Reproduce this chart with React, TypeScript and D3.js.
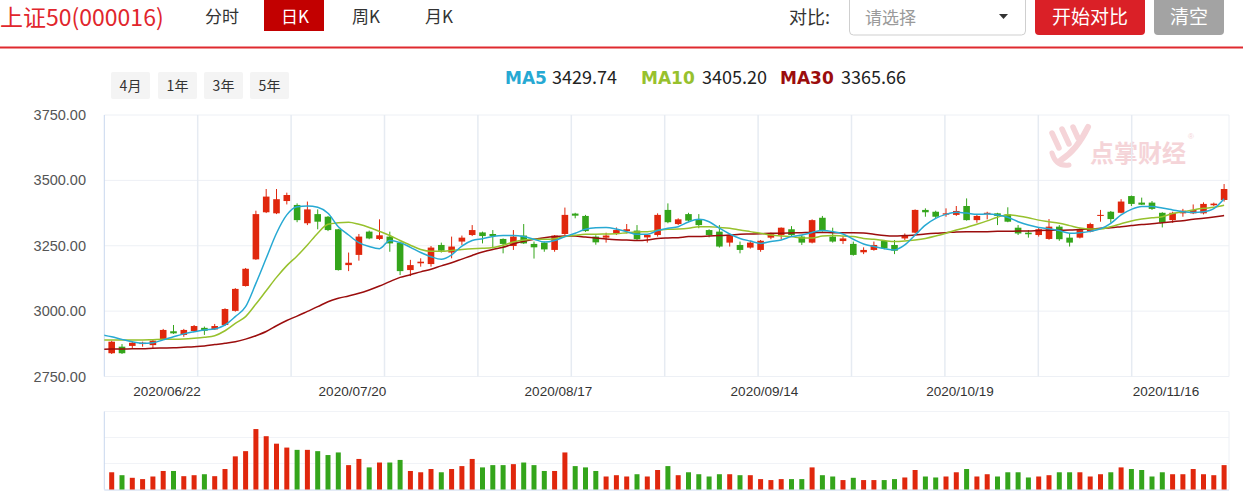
import React from "react";
import * as d3 from "d3";

// ---------- data ----------
const dates = "2020/06/12 2020/06/15 2020/06/16 2020/06/17 2020/06/18 2020/06/19 2020/06/22 2020/06/23 2020/06/24 2020/06/29 2020/06/30 2020/07/01 2020/07/02 2020/07/03 2020/07/06 2020/07/07 2020/07/08 2020/07/09 2020/07/10 2020/07/13 2020/07/14 2020/07/15 2020/07/16 2020/07/17 2020/07/20 2020/07/21 2020/07/22 2020/07/23 2020/07/24 2020/07/27 2020/07/28 2020/07/29 2020/07/30 2020/07/31 2020/08/03 2020/08/04 2020/08/05 2020/08/06 2020/08/07 2020/08/10 2020/08/11 2020/08/12 2020/08/13 2020/08/14 2020/08/17 2020/08/18 2020/08/19 2020/08/20 2020/08/21 2020/08/24 2020/08/25 2020/08/26 2020/08/27 2020/08/28 2020/08/31 2020/09/01 2020/09/02 2020/09/03 2020/09/04 2020/09/07 2020/09/08 2020/09/09 2020/09/10 2020/09/11 2020/09/14 2020/09/15 2020/09/16 2020/09/17 2020/09/18 2020/09/21 2020/09/22 2020/09/23 2020/09/24 2020/09/25 2020/09/28 2020/09/29 2020/09/30 2020/10/09 2020/10/12 2020/10/13 2020/10/14 2020/10/15 2020/10/16 2020/10/19 2020/10/20 2020/10/21 2020/10/22 2020/10/23 2020/10/26 2020/10/27 2020/10/28 2020/10/29 2020/10/30 2020/11/02 2020/11/03 2020/11/04 2020/11/05 2020/11/06 2020/11/09 2020/11/10 2020/11/11 2020/11/12 2020/11/13 2020/11/16 2020/11/17 2020/11/18 2020/11/19 2020/11/20 2020/11/23".split(" ");

const open = [2839, 2864, 2867, 2874, 2870, 2892, 2923, 2909, 2924, 2936,
  2930, 2947, 3001, 3096, 3198, 3378, 3374, 3421, 3406, 3336,
  3371, 3361, 3313, 3176, 3215, 3304, 3276, 3285, 3262, 3157,
  3183, 3180, 3253, 3224, 3266, 3291, 3301, 3295, 3276, 3249,
  3289, 3257, 3262, 3234, 3295, 3373, 3364, 3285, 3281, 3297,
  3306, 3308, 3282, 3291, 3387, 3333, 3371, 3349, 3310, 3304,
  3262, 3253, 3243, 3234, 3281, 3291, 3313, 3285, 3262, 3357,
  3285, 3268, 3257, 3225, 3234, 3268, 3253, 3278, 3300, 3387,
  3380, 3369, 3368, 3402, 3348, 3371, 3374, 3370, 3319, 3300,
  3291, 3276, 3323, 3281, 3281, 3304, 3364, 3380, 3376, 3440,
  3415, 3415, 3376, 3348, 3374, 3374, 3374, 3405, 3425];
const high = [2887, 2874, 2883, 2883, 2893, 2932, 2947, 2932, 2947, 2941,
  2951, 3011, 3088, 3165, 3384, 3467, 3467, 3453, 3412, 3419,
  3389, 3364, 3315, 3224, 3295, 3308, 3351, 3304, 3266, 3196,
  3202, 3249, 3262, 3285, 3289, 3329, 3304, 3310, 3278, 3310,
  3333, 3266, 3266, 3291, 3396, 3376, 3368, 3290, 3300, 3320,
  3333, 3329, 3293, 3374, 3412, 3355, 3376, 3371, 3313, 3329,
  3295, 3266, 3269, 3272, 3300, 3320, 3325, 3291, 3351, 3364,
  3319, 3287, 3266, 3244, 3266, 3272, 3272, 3297, 3389, 3393,
  3384, 3393, 3402, 3431, 3368, 3380, 3376, 3397, 3329, 3310,
  3320, 3352, 3329, 3297, 3317, 3338, 3387, 3383, 3428, 3442,
  3434, 3421, 3378, 3380, 3391, 3408, 3416, 3415, 3486];
const low = [2836, 2836, 2858, 2864, 2858, 2890, 2913, 2902, 2921, 2909,
  2928, 2943, 2998, 3094, 3196, 3375, 3371, 3408, 3340, 3329,
  3313, 3306, 3155, 3153, 3193, 3275, 3272, 3227, 3138, 3134,
  3170, 3170, 3224, 3202, 3253, 3287, 3259, 3240, 3221, 3234,
  3257, 3201, 3227, 3227, 3291, 3355, 3303, 3254, 3262, 3291,
  3297, 3269, 3262, 3285, 3336, 3329, 3342, 3317, 3282, 3243,
  3247, 3221, 3239, 3227, 3275, 3275, 3287, 3253, 3259, 3304,
  3262, 3257, 3212, 3218, 3231, 3236, 3218, 3272, 3297, 3361,
  3355, 3361, 3364, 3346, 3338, 3351, 3329, 3340, 3291, 3281,
  3285, 3273, 3269, 3247, 3278, 3301, 3342, 3338, 3374, 3402,
  3406, 3387, 3320, 3338, 3361, 3371, 3370, 3402, 3419];
const close = [2883, 2839, 2879, 2879, 2887, 2928, 2915, 2928, 2943, 2925,
  2943, 3008, 3085, 3162, 3371, 3438, 3428, 3444, 3348, 3389,
  3342, 3310, 3157, 3185, 3285, 3278, 3290, 3259, 3153, 3176,
  3189, 3243, 3231, 3247, 3281, 3310, 3287, 3287, 3257, 3285,
  3259, 3244, 3236, 3289, 3368, 3365, 3306, 3263, 3289, 3310,
  3313, 3275, 3291, 3368, 3340, 3351, 3346, 3329, 3291, 3247,
  3291, 3234, 3262, 3269, 3294, 3319, 3291, 3262, 3348, 3306,
  3266, 3278, 3215, 3234, 3253, 3240, 3231, 3291, 3387, 3378,
  3361, 3374, 3383, 3348, 3364, 3376, 3364, 3342, 3297, 3294,
  3313, 3323, 3275, 3262, 3310, 3333, 3368, 3352, 3419, 3410,
  3407, 3391, 3338, 3376, 3384, 3387, 3410, 3411, 3467];
const volume = [5.3, 4.4, 3.6, 3.2, 4.0, 5.7, 5.7, 4.1, 4.4, 4.7,
  4.1, 6.3, 10.2, 11.8, 18.6, 16.4, 14.1, 12.9, 12.2, 12.2,
  11.8, 10.6, 11.4, 7.5, 9.4, 6.8, 8.3, 8.3, 9.1, 5.7,
  5.3, 6.3, 5.3, 6.3, 7.2, 9.4, 6.8, 7.5, 7.5, 7.8,
  8.3, 7.5, 5.7, 5.7, 11.4, 7.2, 6.8, 5.7, 4.0, 4.4,
  4.0, 4.7, 4.0, 6.0, 7.2, 4.4, 5.3, 4.7, 4.0, 4.7,
  4.7, 4.4, 4.4, 3.2, 2.9, 3.2, 3.2, 3.2, 6.8, 4.4,
  4.0, 2.9, 3.6, 2.9, 2.9, 2.9, 3.2, 3.7, 6.0, 4.0,
  3.7, 4.0, 5.3, 6.3, 4.0, 4.7, 4.0, 5.3, 5.3, 3.7,
  4.0, 4.4, 5.3, 5.3, 5.3, 4.0, 4.7, 5.3, 6.8, 6.3,
  6.0, 4.0, 5.3, 4.7, 4.7, 6.3, 4.7, 4.4, 7.5];

// moving averages: first value belongs to the session before the first visible candle (2020/06/11)
const ma5 = [2910,
  2902, 2892, 2883, 2877, 2879, 2890, 2902, 2913, 2921, 2928,
  2932, 2947, 2979, 3017, 3106, 3202, 3298, 3368, 3399, 3402,
  3397, 3374, 3323, 3291, 3262, 3247, 3239, 3270, 3262, 3244,
  3224, 3208, 3198, 3215, 3249, 3270, 3277, 3285, 3289, 3289,
  3285, 3275, 3264, 3270, 3285, 3298, 3313, 3319, 3320, 3314,
  3304, 3294, 3294, 3308, 3317, 3323, 3341, 3351, 3342, 3317,
  3295, 3278, 3268, 3259, 3266, 3272, 3285, 3291, 3301, 3308,
  3304, 3295, 3275, 3257, 3247, 3239, 3234, 3253, 3291, 3329,
  3355, 3370, 3378, 3375, 3370, 3371, 3368, 3359, 3342, 3329,
  3320, 3315, 3308, 3298, 3300, 3305, 3315, 3336, 3368, 3389,
  3400, 3400, 3394, 3387, 3380, 3377, 3380, 3392, 3429.74];
const ma10 = [2890,
  2890, 2890, 2890, 2890, 2891, 2892, 2892, 2893, 2896, 2900,
  2906, 2925, 2953, 2979, 3027, 3078, 3129, 3174, 3211, 3253,
  3298, 3332, 3338, 3340, 3332, 3320, 3305, 3289, 3270, 3252,
  3236, 3229, 3229, 3232, 3236, 3239, 3240, 3243, 3252, 3264,
  3272, 3275, 3275, 3277, 3285, 3290, 3294, 3294, 3295, 3296,
  3300, 3303, 3304, 3309, 3313, 3314, 3317, 3323, 3323, 3320,
  3317, 3310, 3304, 3298, 3291, 3287, 3285, 3280, 3280, 3287,
  3289, 3287, 3285, 3278, 3275, 3270, 3266, 3268, 3272, 3278,
  3287, 3298, 3310, 3320, 3332, 3345, 3359, 3369, 3364, 3357,
  3348, 3342, 3336, 3327, 3318, 3314, 3314, 3323, 3334, 3345,
  3352, 3357, 3361, 3373, 3380, 3387, 3393, 3397, 3405.20];
const ma30 = [2854,
  2855, 2855, 2856, 2856, 2858, 2859, 2860, 2862, 2864, 2867,
  2872, 2877, 2883, 2893, 2906, 2922, 2944, 2964, 2981, 2999,
  3017, 3036, 3049, 3058, 3068, 3081, 3096, 3113, 3129, 3139,
  3150, 3160, 3173, 3185, 3199, 3213, 3226, 3236, 3244, 3257,
  3267, 3275, 3281, 3285, 3287, 3287, 3283, 3280, 3276, 3273,
  3272, 3270, 3272, 3278, 3280, 3281, 3285, 3285, 3287, 3289,
  3291, 3294, 3295, 3296, 3298, 3298, 3299, 3300, 3301, 3301,
  3300, 3300, 3300, 3299, 3294, 3289, 3287, 3289, 3291, 3295,
  3298, 3300, 3303, 3304, 3304, 3304, 3305, 3305, 3306, 3306,
  3308, 3309, 3309, 3310, 3312, 3314, 3317, 3319, 3323, 3327,
  3331, 3334, 3338, 3342, 3346, 3351, 3355, 3360, 3365.66];

const yTicks = [2750, 3000, 3250, 3500, 3750];
const xLabels = ["2020/06/22", "2020/07/20", "2020/08/17", "2020/09/14", "2020/10/19", "2020/11/16"];
const volTicks = [0, 8, 16, 24];
const tabs = ["分时", "日K", "周K", "月K"];
const ranges = ["4月", "1年", "3年", "5年"];

// ---------- style ----------
const RED = "#e0270d";
const GREEN = "#34a51b";
const C_MA5 = "#27a9d3";
const C_MA10 = "#97c12d";
const C_MA30 = "#9b0d0d";
const CJK = "'Noto Sans CJK SC', 'Noto Sans', sans-serif";
const NUM = "'Liberation Sans', Arial, sans-serif";
const BOLD = "'DejaVu Sans', 'Noto Sans', sans-serif";

const PL = 104.3, PR = 1229, PT = 115, PB = 376.5;
const VT = 411.5, VB = 489.5;

export default function App() {
  const x = d3.scaleLinear().domain([0, dates.length - 1]).range([111.7, 1224.1]);
  const y = d3.scaleLinear().domain([2750, 3750]).range([PB, PT]);
  const yv = d3.scaleLinear().domain([0, 24]).range([VB, VT]);
  const gridX = d3.scaleLinear().domain([0, 12]).range([PL, 1225.1]);

  const line = d3.line<number>()
    .x((_, i) => x(i - 1))
    .y((d) => y(d))
    .curve(d3.curveMonotoneX);

  const bodyW = 6.6;
  const volW = 5;

  const legend = [
    { name: "MA5", v: ma5[ma5.length - 1], c: C_MA5, x: 505, vx: 552 },
    { name: "MA10", v: ma10[ma10.length - 1], c: C_MA10, x: 641, vx: 702 },
    { name: "MA30", v: ma30[ma30.length - 1], c: C_MA30, x: 780, vx: 841 },
  ];

  const tabX = [205, 281, 352, 425];
  const rangeX = [111, 158, 204, 250];

  return (
    <svg width={1243} height={492} style={{ position: "absolute", left: 0, top: 0, background: "#fff" }}
      xmlns="http://www.w3.org/2000/svg">
      <defs>
        <clipPath id="plotClip">
          <rect x={PL} y={PT} width={PR - PL} height={PB - PT} />
        </clipPath>
      </defs>

      {/* header */}
      <text x={0} y={26} fontFamily={CJK} fontSize={23} fill="#e1262c">上证50(000016)</text>
      <rect x={264} y={0} width={60} height={31} fill="#c20000" />
      {tabs.map((t, i) => (
        <text key={t} x={tabX[i]} y={23} fontFamily={CJK} fontSize={17}
          fill={i === 1 ? "#fff" : "#333"}>{t}</text>
      ))}
      <text x={789} y={24} fontFamily={CJK} fontSize={18} fill="#333">对比:</text>
      <rect x={849.5} y={-5} width={176} height={40} rx={4} fill="#fff" stroke="#cfcfcf" />
      <text x={865} y={24} fontFamily={CJK} fontSize={17} fill="#9a9a9a">请选择</text>
      <path d="M999,14 L1008,14 L1003.5,19 Z" fill="#333" />
      <rect x={1035} y={-5} width={110} height={40} rx={4} fill="#da2027" />
      <text x={1090} y={24} textAnchor="middle" fontFamily={CJK} fontSize={19} fill="#fff">开始对比</text>
      <rect x={1154} y={-5} width={70} height={40} rx={4} fill="#a3a3a3" />
      <text x={1189} y={24} textAnchor="middle" fontFamily={CJK} fontSize={19} fill="#fff">清空</text>
      <rect x={0} y={46.5} width={1243} height={2} fill="#df2a2f" />

      {/* range buttons */}
      {ranges.map((r, i) => (
        <g key={r}>
          <rect x={rangeX[i]} y={72} width={39} height={27} rx={2} fill="#f4f4f4" />
          <text x={rangeX[i] + 19.5} y={90.5} textAnchor="middle" fontFamily={CJK} fontSize={14} fill="#333">{r}</text>
        </g>
      ))}

      {/* legend */}
      {legend.map((l) => (
        <g key={l.name}>
          <text x={l.x} y={84} fontFamily={BOLD} fontWeight={700} fontSize={17} fill={l.c}>{l.name}</text>
          <text x={l.vx} y={84} fontFamily={CJK} fontSize={18} fill="#222">{l.v.toFixed(2)}</text>
        </g>
      ))}

      {/* watermark */}
      <g stroke="#f5d4d8" strokeLinecap="round" fill="none">
        <path d="M1052,133 L1059,148" strokeWidth={5.5} />
        <path d="M1062,129 L1069,144" strokeWidth={5.5} />
        <path d="M1073,127 L1078,138" strokeWidth={5.5} />
        <path d="M1088,127 Q1077,150 1061,160" strokeWidth={6} />
        <path d="M1052,153 Q1056,167 1069,165" strokeWidth={5} />
      </g>
      <text x={1090} y={162} fontFamily={CJK} fontSize={24} fontWeight={700} fill="#f5d4d8">点掌财经</text>
      <text x={1188} y={139} fontFamily={NUM} fontSize={8} fill="#f5d4d8">®</text>

      {/* main grid */}
      {yTicks.map((t) => (
        <line key={t} x1={PL} x2={PR} y1={y(t)} y2={y(t)} stroke="#edf0f5" strokeWidth={1} />
      ))}
      {d3.range(1, 12).map((k) => (
        <line key={k} x1={gridX(k)} x2={gridX(k)} y1={PT} y2={PB} stroke="#e6ebf2" strokeWidth={1.5} />
      ))}
      <line x1={PR} x2={PR} y1={PT} y2={PB} stroke="#edf0f5" />
      <line x1={PL} x2={PL} y1={PT} y2={PB} stroke="#c9d8ee" />
      {yTicks.map((t) => (
        <text key={t} x={86} y={y(t) + 5} textAnchor="end" fontFamily={NUM} fontSize={14.5} fill="#555">{t.toFixed(2)}</text>
      ))}

      {/* candles */}
      <g clipPath="url(#plotClip)">
        {dates.map((d, i) => {
          const up = close[i] >= open[i];
          const col = up ? RED : GREEN;
          const top = y(Math.max(open[i], close[i]));
          const bot = y(Math.min(open[i], close[i]));
          return (
            <g key={d}>
              <line x1={x(i)} x2={x(i)} y1={y(high[i])} y2={y(low[i])} stroke={col} strokeWidth={1} />
              <rect x={x(i) - bodyW / 2} y={top} width={bodyW} height={Math.max(1, bot - top)} fill={col} />
            </g>
          );
        })}
        <path d={line(ma30) || ""} fill="none" stroke={C_MA30} strokeWidth={1.5} />
        <path d={line(ma10) || ""} fill="none" stroke={C_MA10} strokeWidth={1.5} />
        <path d={line(ma5) || ""} fill="none" stroke={C_MA5} strokeWidth={1.5} />
      </g>

      {/* x labels */}
      {xLabels.map((lb) => (
        <text key={lb} x={x(dates.indexOf(lb)) - 6.5} y={396} textAnchor="middle" fontFamily={NUM} fontSize={13.5} fill="#333">{lb}</text>
      ))}

      {/* volume panel */}
      {volTicks.slice(1).map((t) => (
        <line key={t} x1={PL} x2={PR} y1={yv(t)} y2={yv(t)} stroke="#f1f3f7" />
      ))}
      <line x1={PL} x2={PL} y1={VT} y2={VB} stroke="#c9d8ee" />
      <line x1={PR} x2={PR} y1={VT} y2={VB} stroke="#edf0f5" />
      <line x1={PL} x2={PR} y1={VB + 0.5} y2={VB + 0.5} stroke="#c9d8ee" />
      {dates.map((d, i) => {
        const col = close[i] >= open[i] ? RED : GREEN;
        return (
          <rect key={d} x={x(i) - volW / 2} y={yv(volume[i])} width={volW}
            height={yv(0) - yv(volume[i])} fill={col} />
        );
      })}
    </svg>
  );
}
